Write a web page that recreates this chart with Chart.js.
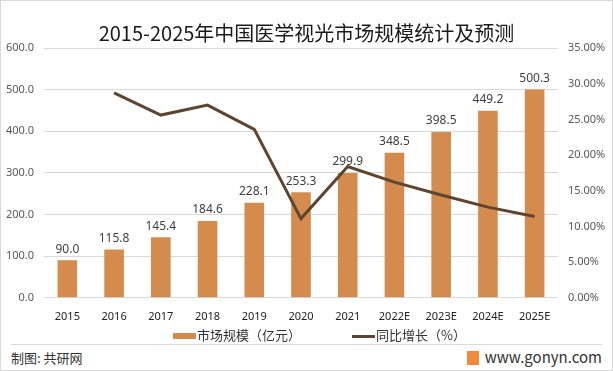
<!DOCTYPE html>
<html>
<head>
<meta charset="utf-8">
<script src="https://cdn.jsdelivr.net/npm/chart.js@4"></script>
<style>
  body { margin: 0; background: #fff; font-family: "Noto Sans CJK SC", sans-serif; }
  #wrap { position: relative; width: 611px; height: 369px; border: 1px solid #d9d9d9; overflow: hidden; }
  #title { position: absolute; left: 0; top: 17px; width: 611px; text-align: center; font-size: 20px; color: #1a1a1a; }
  #box { position: absolute; left: 0; top: 0; width: 611px; height: 334px; }
  #legend { position: absolute; left: 172px; top: 324px; font-size: 13px; color: #333; white-space: nowrap; }
  #legend span.sw { display: inline-block; width: 23px; vertical-align: middle; margin-right: 1px; }
  #sep { position: absolute; left: 10px; right: 10px; top: 343px; border-top: 1px solid #d9d9d9; }
  #src { position: absolute; left: 10px; top: 347px; font-size: 13px; color: #333; }
  #site { position: absolute; right: 10px; top: 345px; font-size: 15px; color: #333; }
  #logo { display: inline-block; width: 12px; height: 14px; background: #f08a3c; vertical-align: -2px; margin-right: 6px; }
</style>
</head>
<body>
<div id="wrap">
  <div id="box"><canvas id="myChart"></canvas></div>
  <div id="title">2015-2025年中国医学视光市场规模统计及预测</div>
  <div id="legend"></div>
  <div id="sep"></div>
  <div id="src">制图: 共研网</div>
  <div id="site"><span id="logo"></span>www.gonyn.com</div>
</div>
<script>
var years = ["2015", "2016", "2017", "2018", "2019", "2020", "2021", "2022E", "2023E", "2024E", "2025E"];
var marketSize = [90.0, 115.8, 145.4, 184.6, 228.1, 253.3, 299.9, 348.5, 398.5, 449.2, 500.3];
var growth = [null, 28.7, 25.6, 27.0, 23.6, 11.1, 18.4, 16.2, 14.4, 12.7, 11.4];

var barColor = "#d48b4e";
var lineColor = "#5e4530";

// value labels above the bars
var barLabels = {
  id: "barLabels",
  afterDatasetsDraw: function (chart) {
    var ctx = chart.ctx;
    var meta = chart.getDatasetMeta(0);
    ctx.save();
    ctx.font = "12px 'Noto Sans', sans-serif";
    ctx.fillStyle = "#404040";
    ctx.textAlign = "center";
    ctx.textBaseline = "bottom";
    meta.data.forEach(function (bar, i) {
      ctx.fillText(marketSize[i].toFixed(1), bar.x, bar.y - 5);
    });
    ctx.restore();
  }
};

var ctx = document.getElementById("myChart").getContext("2d");
var chart = new Chart(ctx, {
  type: "bar",
  data: {
    labels: years,
    datasets: [
      {
        label: "市场规模（亿元）",
        data: marketSize,
        backgroundColor: barColor,
        barPercentage: 0.42,
        categoryPercentage: 1,
        yAxisID: "y",
        order: 2
      },
      {
        type: "line",
        label: "同比增长（%）",
        data: growth,
        borderColor: lineColor,
        backgroundColor: lineColor,
        borderWidth: 3,
        pointRadius: 0,
        tension: 0,
        yAxisID: "y1",
        order: 1
      }
    ]
  },
  options: {
    responsive: true,
    maintainAspectRatio: false,
    animation: false,
    layout: { padding: { top: 47, bottom: 0 } },
    plugins: {
      tooltip: { enabled: false },
      legend: { display: false }
    },
    scales: {
      x: {
        grid: { display: false, drawTicks: false },
        border: { display: false },
        ticks: { color: "#222", font: { size: 11, family: "'Noto Sans'" }, padding: 12 }
      },
      y: {
        position: "left",
        min: 0,
        max: 600,
        afterFit: function (s) { s.width = 43; },
        grid: { color: "#d9d9d9", drawTicks: false },
        border: { display: false },
        ticks: {
          stepSize: 100,
          padding: 10,
          color: "#595959",
          font: { size: 11, family: "'Noto Sans'" },
          callback: function (v) { return v.toFixed(1); }
        }
      },
      y1: {
        position: "right",
        min: 0,
        max: 35,
        afterFit: function (s) { s.width = 54; },
        grid: { display: false, drawTicks: false },
        border: { display: false },
        ticks: {
          stepSize: 5,
          padding: 10,
          color: "#595959",
          font: { size: 11, family: "'Noto Sans'" },
          callback: function (v) { return v.toFixed(2) + "%"; }
        }
      }
    }
  },
  plugins: [barLabels]
});

// legend built from the chart's datasets
var lg = document.getElementById("legend");
chart.data.datasets.forEach(function (ds, i) {
  var h = ds.type === "line" ? 3 : 6;
  lg.innerHTML += '<span class="sw" style="height:' + h + 'px;background:' + ds.backgroundColor + '"></span>' +
    '<span style="margin-right:' + (i === 0 ? 51 : 0) + 'px">' + ds.label + '</span>';
});
</script>
</body>
</html>
